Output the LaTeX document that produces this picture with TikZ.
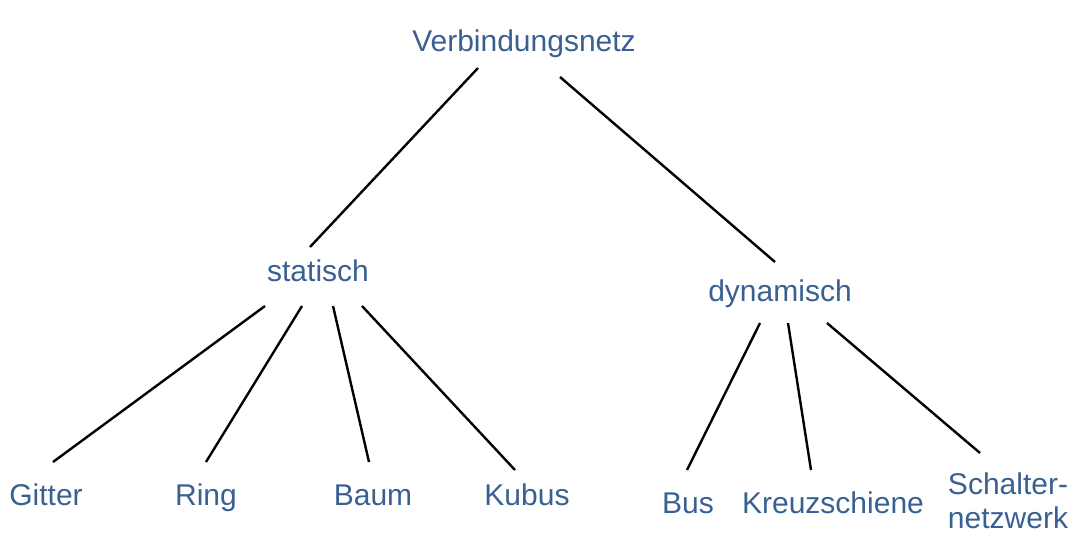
\documentclass[tikz,border=0pt]{standalone}
\usepackage{fontspec}
\setmainfont{Liberation Sans}
\definecolor{lbl}{RGB}{56,96,146}
\begin{document}
\begin{tikzpicture}[x=1pt,y=-1pt,
  lab/.style={text=lbl,font=\fontsize{30}{34}\selectfont,inner sep=0pt,anchor=base},
  edge/.style={draw=black,line width=2.4pt}]
\useasboundingbox (0,0) rectangle (1078,543);
\node[lab] (root) at (524,52) {Verbindungsnetz};
\node[lab] (stat) at (318,281) {statisch};
\node[lab] (dyn) at (780,301) {dynamisch};
\node[lab] (git) at (46,505) {Gitter};
\node[lab] (ring) at (206,505) {Ring};
\node[lab] (baum) at (373,505) {Baum};
\node[lab] (kub) at (527,505) {Kubus};
\node[lab] (bus) at (688,513) {Bus};
\node[lab] (kreuz) at (833,513) {Kreuzschiene};
\node[text=lbl,font=\fontsize{30}{34}\selectfont,inner sep=0pt,align=left,anchor=north] (schalt) at (1008,473) {Schalter-\\netzwerk};
% connector end points
\coordinate (r1) at (478,68); \coordinate (s0) at (310,247);
\coordinate (r2) at (560,77); \coordinate (d0) at (775,262);
\coordinate (s1) at (265,306); \coordinate (g0) at (53,462);
\coordinate (s2) at (302,306); \coordinate (ri0) at (206,462);
\coordinate (s3) at (333,306); \coordinate (b0) at (369,462);
\coordinate (s4) at (362,306); \coordinate (k0) at (515,470);
\coordinate (d1) at (760,323); \coordinate (bu0) at (687,470);
\coordinate (d2) at (788,323); \coordinate (kr0) at (811,470);
\coordinate (d3) at (827,323); \coordinate (sc0) at (980,453);
\draw[edge] (r1) -- (s0);
\draw[edge] (r2) -- (d0);
\draw[edge] (s1) -- (g0);
\draw[edge] (s2) -- (ri0);
\draw[edge] (s3) -- (b0);
\draw[edge] (s4) -- (k0);
\draw[edge] (d1) -- (bu0);
\draw[edge] (d2) -- (kr0);
\draw[edge] (d3) -- (sc0);
\end{tikzpicture}
\end{document}
